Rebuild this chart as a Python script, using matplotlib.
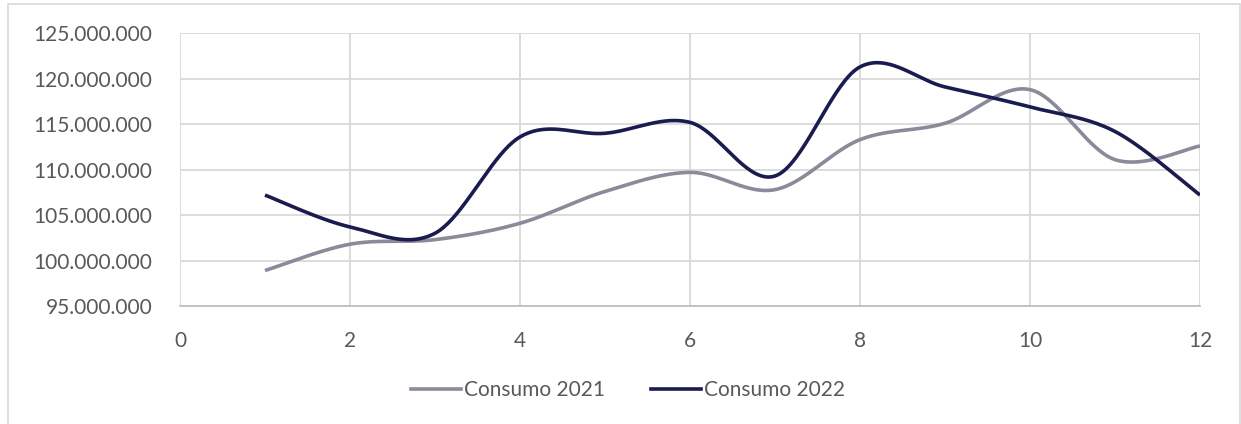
import numpy as np
import matplotlib.pyplot as plt
from matplotlib.patches import Rectangle
from matplotlib.lines import Line2D
import matplotlib.ticker as ticker

# ---------------------------------------------------------------------------
# Data (in units)
# ---------------------------------------------------------------------------
months = [1, 2, 3, 4, 5, 6, 7, 8, 9, 10, 11, 12]
consumo_2021 = [98.9e6, 101.8e6, 102.3e6, 104.1e6, 107.6e6, 109.7e6,
                107.8e6, 113.3e6, 115.1e6, 118.8e6, 111.1e6, 112.6e6]
consumo_2022 = [107.2e6, 103.7e6, 103.0e6, 113.6e6, 114.0e6, 115.2e6,
                109.3e6, 121.3e6, 119.1e6, 116.9e6, 114.2e6, 107.2e6]

C_2021 = "#8b8a9b"
C_2022 = "#1a1b4f"
TXT = "#595959"
GRID = "#d9d9d9"

plt.rcParams["font.family"] = ["Lato", "DejaVu Sans"]


def smooth(xs, ys, n=40):
    """Excel-style smoothed line: Catmull-Rom spline drawn as cubic Beziers."""
    xs = np.asarray(xs, float)
    ys = np.asarray(ys, float)
    px = np.concatenate([[xs[0]], xs, [xs[-1]]])
    py = np.concatenate([[ys[0]], ys, [ys[-1]]])
    t = np.linspace(0, 1, n)[:, None]
    outx, outy = [], []
    for i in range(1, len(px) - 2):
        p0 = np.array([px[i], py[i]])
        p3 = np.array([px[i + 1], py[i + 1]])
        p1 = p0 + (np.array([px[i + 1], py[i + 1]]) - np.array([px[i - 1], py[i - 1]])) / 6
        p2 = p3 - (np.array([px[i + 2], py[i + 2]]) - np.array([px[i], py[i]])) / 6
        b = ((1 - t) ** 3) * p0 + 3 * ((1 - t) ** 2) * t * p1 \
            + 3 * (1 - t) * t ** 2 * p2 + t ** 3 * p3
        outx.append(b[:, 0])
        outy.append(b[:, 1])
    return np.concatenate(outx), np.concatenate(outy)


fig = plt.figure(figsize=(12.41, 4.24), dpi=100)
ax = fig.add_axes([180 / 1241, 1 - 306 / 424, 1020 / 1241, (306 - 33.3) / 424])

# chart-area border
fig.patches.append(Rectangle((8 / 1241, -0.01), (1240 - 8) / 1241, 1 - 4 / 424 + 0.01,
                             transform=fig.transFigure, fill=False,
                             edgecolor=GRID, linewidth=1.2))

sx, sy = smooth(months, consumo_2021)
ax.plot(sx, sy, color=C_2021, linewidth=2.6, solid_capstyle="butt", zorder=3)
sx, sy = smooth(months, consumo_2022)
ax.plot(sx, sy, color=C_2022, linewidth=2.6, solid_capstyle="butt", zorder=4)

ax.set_xlim(0, 12)
ax.set_ylim(95e6, 125e6)
ax.xaxis.set_major_locator(ticker.MultipleLocator(2))
ax.yaxis.set_major_locator(ticker.MultipleLocator(5e6))
ax.yaxis.set_major_formatter(ticker.FuncFormatter(
    lambda v, p: f"{int(v):,}".replace(",", ".")))

ax.grid(True, color=GRID, linewidth=1.3)
ax.set_axisbelow(True)
for s in ["top", "right", "left"]:
    ax.spines[s].set_visible(False)
ax.spines["bottom"].set_color("#bfbfbf")
ax.spines["bottom"].set_linewidth(1.3)
ax.tick_params(axis="both", length=0, colors=TXT, labelsize=15)
ax.tick_params(axis="y", pad=20)
ax.tick_params(axis="x", pad=18)

handles = [Line2D([], [], color=C_2021, linewidth=2.6),
           Line2D([], [], color=C_2022, linewidth=2.6)]
leg = fig.legend(handles, ["Consumo 2021", "Consumo 2022"], loc="center",
                 bbox_to_anchor=(628 / 1241, 1 - 390 / 424), ncol=2, frameon=False,
                 fontsize=15, handlelength=2.4, handletextpad=0.15, columnspacing=2.2)
for t in leg.get_texts():
    t.set_color(TXT)

fig.savefig("out.png", dpi=100)
